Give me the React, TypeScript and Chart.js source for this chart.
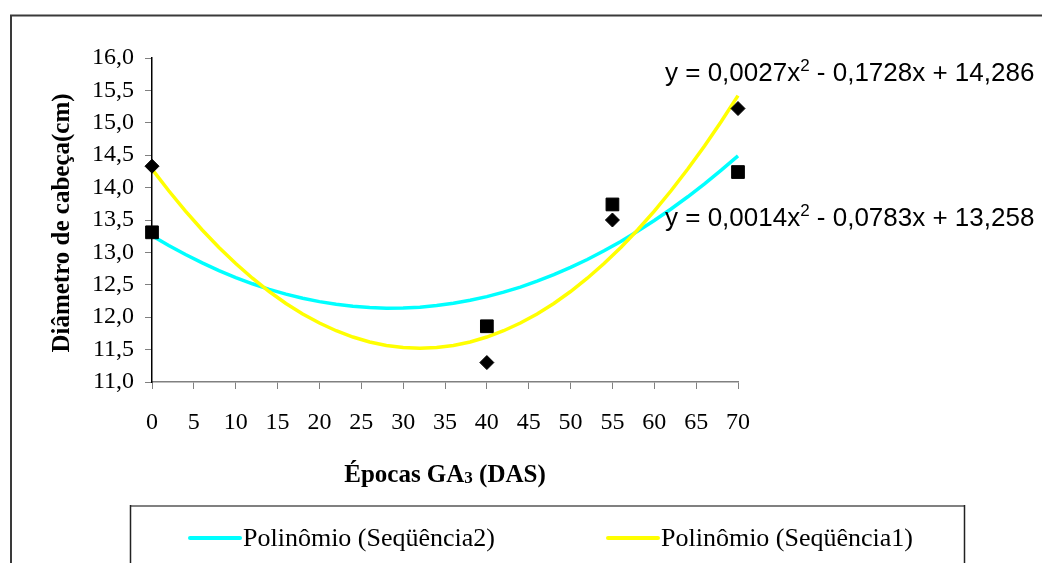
import React, { useEffect, useRef } from 'react';
import { Chart, registerables } from 'chart.js';

Chart.register(...registerables);

// Observed head diameter (cm) at each GA3 application time (days after sowing)
const epocas = [0, 40, 55, 70];
const seq1 = [14.33, 11.3, 13.5, 15.22];
const seq2 = [13.31, 11.86, 13.74, 14.24];

// Quadratic trend coefficients [c0, c1, c2] for y = c2*x^2 + c1*x + c0
const poly1 = [14.286, -0.1728, 0.0027];
const poly2 = [13.258, -0.0783, 0.00137];

const xTickValues = [0, 5, 10, 15, 20, 25, 30, 35, 40, 45, 50, 55, 60, 65, 70];
const yTickValues = [11, 11.5, 12, 12.5, 13, 13.5, 14, 14.5, 15, 15.5, 16];

const legendLabels = ['Polinômio (Seqüência2)', 'Polinômio (Seqüência1)'];
const yTitle = 'Diâmetro de cabeça(cm)';
const xTitleMain = 'Épocas GA';
const xTitleSub = '3';
const xTitleTail = ' (DAS)';

const CYAN = '#00FFFF';
const YELLOW = '#FFFF00';
const SERIF = '"Liberation Serif", "Times New Roman", serif';
const SANS = '"Liberation Sans", Arial, sans-serif';

const trendPoints = (c: number[]) => {
  const pts: { x: number; y: number }[] = [];
  for (let x = xTickValues[0]; x <= xTickValues[xTickValues.length - 1]; x += 2) {
    pts.push({ x, y: c[0] + c[1] * x + c[2] * x * x });
  }
  return pts;
};

const fmt = (v: number, d: number) => v.toFixed(d).replace('.', ',');
const equationParts = (c: number[]) => [
  `y = ${fmt(c[2], 4)}x`,
  '2',
  ` ${c[1] < 0 ? '-' : '+'} ${fmt(Math.abs(c[1]), 4)}x ${c[0] < 0 ? '-' : '+'} ${fmt(Math.abs(c[0]), 3)}`,
];

const decorPlugin = {
  id: 'decor',
  beforeDraw(chart: any) {
    const ctx = chart.ctx as CanvasRenderingContext2D;
    ctx.save();
    ctx.fillStyle = '#ffffff';
    ctx.fillRect(0, 0, chart.width, chart.height);
    // outer frame
    ctx.strokeStyle = '#3a3a3a';
    ctx.lineWidth = 2;
    ctx.beginPath();
    ctx.moveTo(11, chart.height + 2);
    ctx.lineTo(11, 15.5);
    ctx.lineTo(chart.width + 2, 15.5);
    ctx.stroke();
    // legend box
    ctx.strokeStyle = '#808080';
    ctx.lineWidth = 2;
    ctx.beginPath();
    ctx.moveTo(130, 506);
    ctx.lineTo(964, 506);
    ctx.stroke();
    ctx.strokeStyle = '#222222';
    ctx.lineWidth = 1.5;
    ctx.beginPath();
    ctx.moveTo(130.5, 505);
    ctx.lineTo(130.5, chart.height + 2);
    ctx.moveTo(964.5, 505);
    ctx.lineTo(964.5, chart.height + 2);
    ctx.stroke();
    ctx.restore();
  },
  afterDraw(chart: any) {
    const ctx = chart.ctx as CanvasRenderingContext2D;
    const area = chart.chartArea;
    ctx.save();
    ctx.fillStyle = '#000000';

    // y axis title
    ctx.save();
    ctx.translate(63, (area.top + area.bottom) / 2 + 3);
    ctx.rotate(-Math.PI / 2);
    ctx.font = `bold 25px ${SERIF}`;
    ctx.textAlign = 'center';
    ctx.textBaseline = 'middle';
    ctx.fillText(yTitle, 0, 0);
    ctx.restore();

    // x axis title with subscript
    ctx.font = `bold 25px ${SERIF}`;
    const wMain = ctx.measureText(xTitleMain).width;
    const wTail = ctx.measureText(xTitleTail).width;
    ctx.font = `bold 17px ${SERIF}`;
    const wSub = ctx.measureText(xTitleSub).width;
    const total = wMain + wSub + wTail;
    const x0 = (area.left + area.right) / 2 - total / 2;
    const yT = 482;
    ctx.textBaseline = 'alphabetic';
    ctx.textAlign = 'left';
    ctx.font = `bold 25px ${SERIF}`;
    ctx.fillText(xTitleMain, x0, yT);
    ctx.font = `bold 17px ${SERIF}`;
    ctx.fillText(xTitleSub, x0 + wMain, yT + 1);
    ctx.font = `bold 25px ${SERIF}`;
    ctx.fillText(xTitleTail, x0 + wMain + wSub, yT);

    // trend equations
    const drawEq = (c: number[], x: number, baseline: number) => {
      const [a, sup, b] = equationParts(c);
      ctx.font = `26px ${SANS}`;
      ctx.fillText(a, x, baseline);
      const wa = ctx.measureText(a).width;
      ctx.font = `17px ${SANS}`;
      ctx.fillText(sup, x + wa, baseline - 10);
      const ws = ctx.measureText(sup).width;
      ctx.font = `26px ${SANS}`;
      ctx.fillText(b, x + wa + ws, baseline);
    };
    drawEq(poly1, 665, 81);
    drawEq(poly2, 665, 226);

    // legend entries
    const items = [
      { color: CYAN, label: legendLabels[0], x: 190 },
      { color: YELLOW, label: legendLabels[1], x: 608 },
    ];
    ctx.font = `26px ${SERIF}`;
    ctx.textBaseline = 'middle';
    items.forEach((it) => {
      ctx.strokeStyle = it.color;
      ctx.lineWidth = 4;
      ctx.lineCap = 'round';
      ctx.beginPath();
      ctx.moveTo(it.x, 538);
      ctx.lineTo(it.x + 50, 538);
      ctx.stroke();
      ctx.fillText(it.label, it.x + 53, 539);
    });
    ctx.restore();
  },
};

export default function App() {
  const canvasRef = useRef<HTMLCanvasElement | null>(null);

  useEffect(() => {
    if (!canvasRef.current) return;
    const chart = new Chart(canvasRef.current, {
      type: 'scatter',
      data: {
        datasets: [
          {
            label: 'Seqüência1',
            data: epocas.map((x, i) => ({ x, y: seq1[i] })),
            pointStyle: 'rectRot',
            pointRadius: 7,
            backgroundColor: '#000',
            borderColor: '#000',
            borderWidth: 1,
            showLine: false,
            clip: false,
            order: 0,
          },
          {
            label: 'Seqüência2',
            data: epocas.map((x, i) => ({ x, y: seq2[i] })),
            pointStyle: 'rect',
            pointRadius: 9,
            backgroundColor: '#000',
            borderColor: '#000',
            borderWidth: 1,
            showLine: false,
            clip: false,
            order: 0,
          },
          {
            label: legendLabels[1],
            data: trendPoints(poly1),
            showLine: true,
            borderColor: YELLOW,
            borderWidth: 3.5,
            pointRadius: 0,
            tension: 0,
            clip: false,
            order: 1,
          },
          {
            label: legendLabels[0],
            data: trendPoints(poly2),
            showLine: true,
            borderColor: CYAN,
            borderWidth: 3.5,
            pointRadius: 0,
            tension: 0,
            clip: false,
            order: 2,
          },
        ],
      },
      options: {
        responsive: false,
        animation: false,
        events: [],
        layout: { padding: { left: 52, right: 304, top: 58, bottom: 121 } },
        plugins: { legend: { display: false }, tooltip: { enabled: false } },
        scales: {
          x: {
            type: 'linear',
            min: 0,
            max: 70,
            afterFit: (s: any) => {
              s.height = 60;
            },
            afterBuildTicks: (s: any) => {
              s.ticks = xTickValues.map((v) => ({ value: v }));
            },
            ticks: {
              color: '#000',
              font: { family: SERIF, size: 24 },
              padding: 19,
              callback: (v: any) => String(v),
            },
            grid: { drawOnChartArea: false, drawTicks: true, tickLength: 7, color: '#808080' },
            border: { color: '#808080', width: 1.5 },
          },
          y: {
            type: 'linear',
            min: 11,
            max: 16,
            afterFit: (s: any) => {
              s.width = 100;
            },
            afterBuildTicks: (s: any) => {
              s.ticks = yTickValues.map((v) => ({ value: v }));
            },
            ticks: {
              color: '#000',
              font: { family: SERIF, size: 24 },
              padding: 11,
              callback: (v: any) => fmt(Number(v), 1),
            },
            grid: { drawOnChartArea: false, drawTicks: true, tickLength: 7, color: '#808080' },
            border: { color: '#000', width: 1.5 },
          },
        },
      },
      plugins: [decorPlugin],
    });
    return () => chart.destroy();
  }, []);

  return (
    <div style={{ position: 'fixed', left: 0, top: 0, width: 1042, height: 563, background: '#fff' }}>
      <canvas ref={canvasRef} width={1042} height={563} style={{ display: 'block' }} />
    </div>
  );
}
